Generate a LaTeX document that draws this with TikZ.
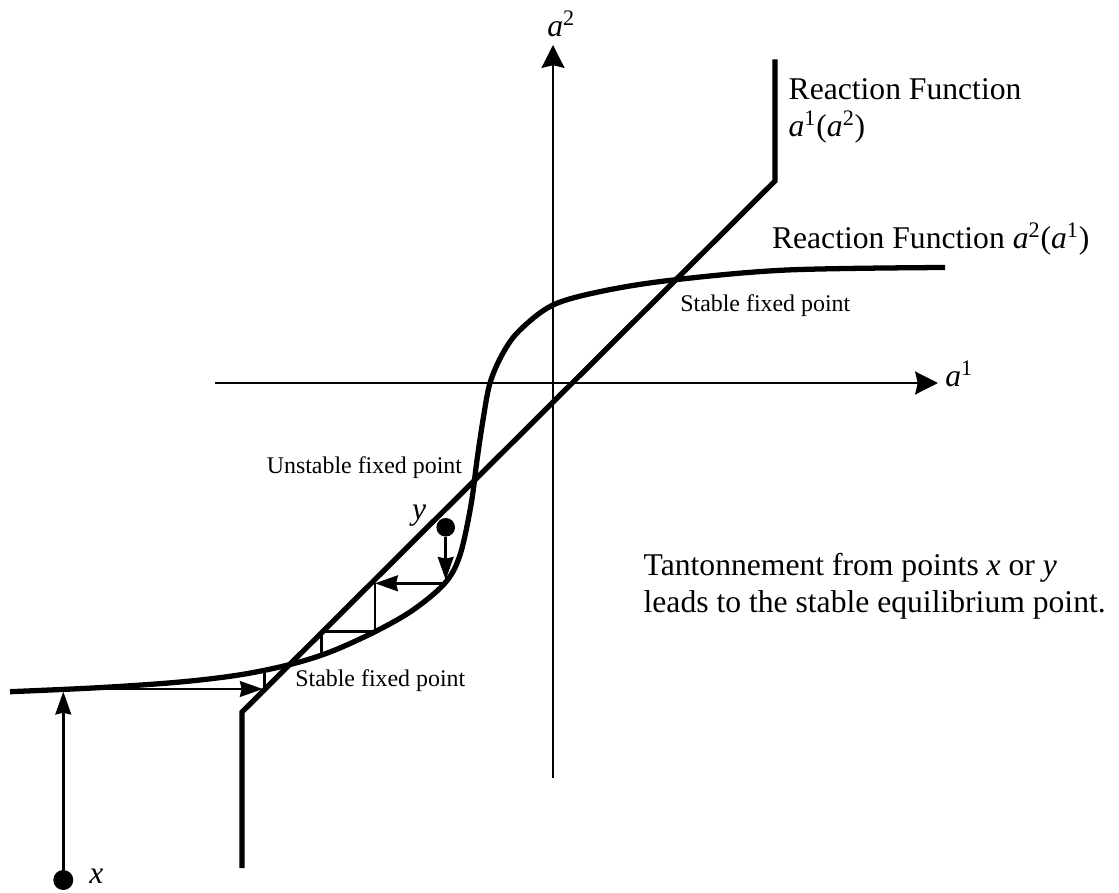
\documentclass[tikz,border=0pt]{standalone}
\usepackage{fontspec}
\setmainfont{Liberation Serif}
\usetikzlibrary{arrows.meta,positioning,calc}
\tikzset{
  reaction/.style={line width=3pt, line join=miter},
  axisline/.style={line width=1.4pt, -{Stealth[length=13pt,width=13pt,inset=1.5pt]}},
  stairline/.style={line width=1.4pt},
  stairarrow/.style={stairline, -{Stealth[length=13pt,width=9pt,inset=1pt]}},
  dotnode/.style={circle, fill, inner sep=0pt, minimum size=#1},
  biglabel/.style={font=\fontsize{18pt}{21pt}\selectfont, inner sep=0pt},
  smalllabel/.style={font=\fontsize{13.6pt}{16pt}\selectfont, inner sep=0pt},
}
\newcommand{\avar}[1]{\textit{a}\textsuperscript{#1}}

\begin{document}
\begin{tikzpicture}
  \useasboundingbox (-11.06,-10.18) rectangle (11.32,7.66);
  % axes
  \coordinate (hstart) at (-6.76,0);
  \coordinate (hend) at (7.7,0);
  \coordinate (vstart) at (0,-7.9);
  \coordinate (vend) at (0,6.76);
  \draw[axisline] (hstart) -- (hend);
  \draw[axisline] (vstart) -- (vend);
  \node[biglabel, anchor=base west] (aone) at (7.84,-0.074) {\avar{1}};
  \node[biglabel, anchor=base west] (atwo) at (-0.12,6.926) {\avar{2}};

  % reaction function a1(a2)
  \draw[reaction] (4.44,6.474) -- (4.44,4.04) -- (-6.22,-6.58) -- (-6.22,-9.7);
  % reaction function a2(a1)
  \draw[reaction] plot[smooth, tension=0.55] coordinates {
    (-10.86,-6.174) (-9.06,-6.092) (-7.46,-5.98) (-6.26,-5.836) (-5.26,-5.63)
    (-4.46,-5.38) (-3.56,-4.974) (-2.80,-4.54) (-2.16,-4.00) (-1.86,-3.44)
    (-1.64,-2.44) (-1.52,-1.54) (-1.40,-0.74) (-1.26,0) (-1.00,0.60)
    (-0.66,1.06) (0,1.56) (1.00,1.84) (2.40,2.06) (4.68,2.26) (7.84,2.31)};

  % labels
  \node[biglabel, anchor=north west, align=left] (rfone) at (4.706,6.094)
    {Reaction Function\\\textit{a}\textsuperscript{1}(\textit{a}\textsuperscript{2})};
  \node[biglabel, anchor=base west] (rftwo) at (4.374,2.694)
    {Reaction Function \textit{a}\textsuperscript{2}(\textit{a}\textsuperscript{1})};
  \node[smalllabel, anchor=base west] (stabletop) at (2.54,1.426) {Stable fixed point};
  \node[smalllabel, anchor=base west] (unstable) at (-5.73,-1.806) {Unstable fixed point};
  \node[smalllabel, anchor=base west] (stablebot) at (-5.16,-6.06) {Stable fixed point};
  \node[biglabel, anchor=north west, align=left] (tanton) at (1.806,-3.406)
    {Tantonnement from points \textit{x} or \textit{y}\\leads to the stable equilibrium point.};

  % starting points
  \node[dotnode=0.4cm] (xpt) at (-9.794,-9.94) {};
  \node[biglabel, anchor=base west] (xlab) at (-9.28,-10.006) {\textit{x}};
  \node[dotnode=0.372cm] (ypt) at (-2.146,-2.886) {};
  \node[biglabel, anchor=base west] (ylab) at (-2.826,-2.72) {\textit{y}};

  % tatonnement from x
  \coordinate (xzero) at (-9.794,-6.12);
  \coordinate (xone) at (-5.77,-6.12);
  \coordinate (xtwo) at (-5.77,-5.73);
  \draw[stairarrow, shorten >=1.5pt] (xpt) -- (xzero);
  \draw[stairarrow, shorten >=1pt] (xzero) -- (xone);
  \draw[stairline] (xone) -- (xtwo);

  % tatonnement from y
  \coordinate (yzero) at (-2.146,-4.006);
  \coordinate (yone) at (-3.56,-4.006);
  \coordinate (ytwo) at (-3.56,-4.974);
  \coordinate (ythree) at (-4.63,-4.974);
  \coordinate (yfour) at (-4.63,-5.43);
  \draw[stairarrow, shorten >=2pt] (ypt) -- (yzero);
  \draw[stairarrow] (yzero) -- (yone);
  \draw[stairline] (yone) -- (ytwo) -- (ythree) -- (yfour);
\end{tikzpicture}
\end{document}
